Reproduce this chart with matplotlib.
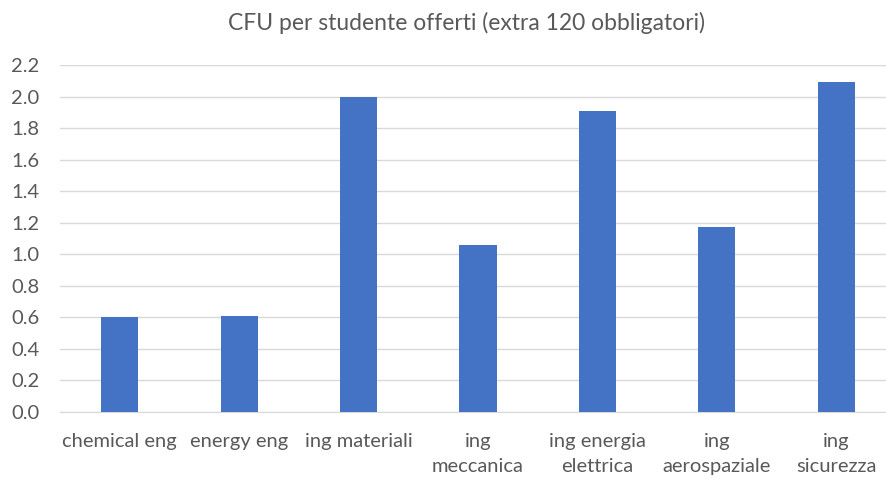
import matplotlib
matplotlib.use('Agg')
import matplotlib.pyplot as plt

# Dati del grafico
corsi = ['chemical eng', 'energy eng', 'ing materiali', 'ing\nmeccanica',
         'ing energia\nelettrica', 'ing\naerospaziale', 'ing\nsicurezza']
cfu = [0.60, 0.61, 2.00, 1.06, 1.91, 1.17, 2.09]
y_ticks = [0.0, 0.2, 0.4, 0.6, 0.8, 1.0, 1.2, 1.4, 1.6, 1.8, 2.0, 2.2]

plt.rcParams['font.family'] = ['Lato', 'DejaVu Sans']

fig = plt.figure(figsize=(8.86, 4.79), dpi=100)
ax = fig.add_axes([60 / 886, 67 / 479, 836 / 886, 347 / 479])

x = range(len(corsi))
ax.bar(x, cfu, width=0.31, color='#4472c4', zorder=3)

ax.set_xlim(-0.5, len(corsi) - 0.5)
ax.set_ylim(0, 2.2)
ax.set_yticks(y_ticks)
ax.set_yticklabels([f'{v:.1f}' for v in y_ticks])
ax.set_xticks(list(x))
ax.set_xticklabels(corsi, linespacing=1.55)

ax.grid(axis='y', color='#d9d9d9', linewidth=1, zorder=0)
for s in ['top', 'right', 'left']:
    ax.spines[s].set_visible(False)
ax.spines['bottom'].set_color('#d9d9d9')
ax.tick_params(axis='both', length=0, labelsize=14.5, colors='#595959')
ax.tick_params(axis='y', pad=15)
ax.tick_params(axis='x', pad=15)

fig.text(0.527, 0.952, 'CFU per studente offerti (extra 120 obbligatori)',
         ha='center', va='center', fontsize=16.5, color='#595959')

fig.savefig('out.png', dpi=100)
